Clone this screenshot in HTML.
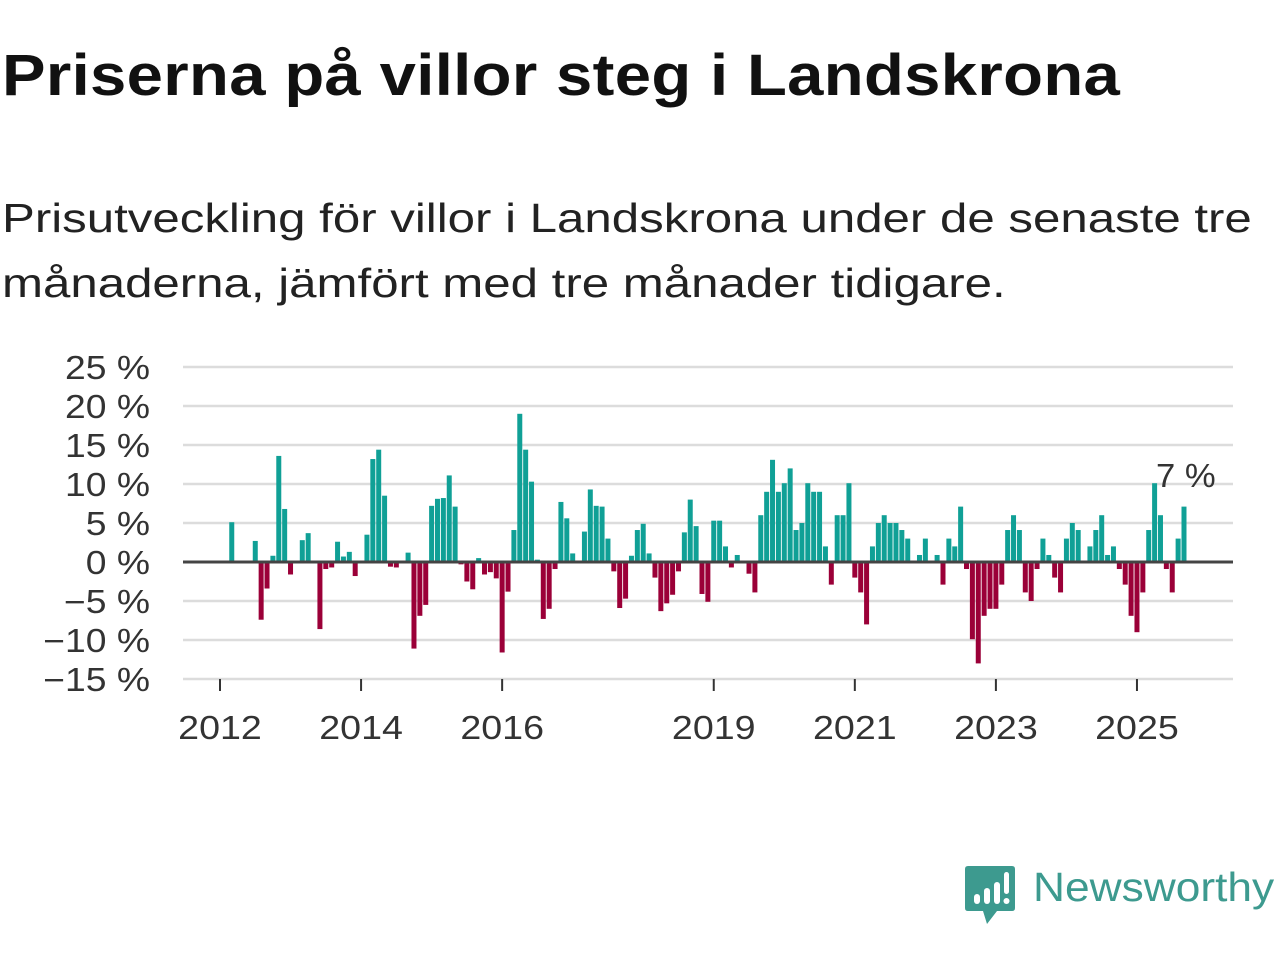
<!DOCTYPE html>
<html><head><meta charset="utf-8"><style>
body{margin:0;width:1280px;height:960px;background:#fff;overflow:hidden;font-family:"Liberation Sans",sans-serif;}
h1{position:absolute;left:2px;top:42px;margin:0;font-size:58px;font-weight:bold;color:#111;letter-spacing:0.3px;white-space:nowrap;transform-origin:0 0;transform:scaleX(1.125)}
.sub{position:absolute;left:2px;top:186px;margin:0;font-size:41px;line-height:65px;color:#222;white-space:nowrap;transform-origin:0 0;transform:scaleX(1.2)}
svg{position:absolute;left:0;top:0}
</style></head><body>
<h1>Priserna på villor steg i Landskrona</h1>
<p class="sub">Prisutveckling för villor i Landskrona under de senaste tre<br>månaderna, jämfört med tre månader tidigare.</p>
<svg id="chart" width="1280" height="960"></svg>
<div style="position:absolute;left:965px;top:866px;">
<svg width="52" height="60" style="position:absolute;left:0;top:0">
<path d="M3 0H47Q50 0 50 3V42Q50 45 47 45H32L22 58L18 45H3Q0 45 0 42V3Q0 0 3 0Z" fill="#3d9a8f"/>
<rect x="9" y="28" width="6" height="10" rx="3" fill="#fff"/><rect x="19" y="22" width="6" height="16" rx="3" fill="#fff"/><rect x="29" y="16" width="6" height="22" rx="3" fill="#fff"/><rect x="39" y="6" width="5" height="22" rx="2.5" fill="#fff"/><circle cx="41.5" cy="35" r="3" fill="#fff"/>
</svg>
<span style="position:absolute;left:68px;top:-2px;font-size:41px;color:#3d9a8f;white-space:nowrap;transform-origin:0 0;transform:scaleX(1.08);display:inline-block">Newsworthy</span>
</div>
<script>
const values=[0,0,5.1,0,0,0,2.7,-7.4,-3.4,0.8,13.6,6.8,-1.6,0,2.8,3.7,0,-8.6,-0.9,-0.7,2.6,0.7,1.3,-1.8,0,3.5,13.2,14.4,8.5,-0.6,-0.7,0,1.2,-11.1,-6.9,-5.5,7.2,8.1,8.2,11.1,7.1,-0.3,-2.5,-3.5,0.5,-1.6,-1.3,-2.1,-11.6,-3.8,4.1,19.0,14.4,10.3,0.3,-7.3,-6.0,-0.9,7.7,5.6,1.1,0,3.9,9.3,7.2,7.1,3.0,-1.2,-5.9,-4.7,0.8,4.1,4.9,1.1,-2.0,-6.3,-5.3,-4.2,-1.2,3.8,8.0,4.6,-4.1,-5.1,5.3,5.3,2.0,-0.7,0.9,0,-1.5,-3.9,6.0,9.0,13.1,9.0,10.1,12.0,4.1,5.0,10.1,9.0,9.0,2.0,-2.9,6.0,6.0,10.1,-2.0,-3.9,-8.0,2.0,5.0,6.0,5.0,5.0,4.1,3.0,0,0.9,3.0,0,0.9,-2.9,3.0,2.0,7.1,-0.9,-9.9,-13.0,-6.9,-6.0,-6.0,-2.9,4.1,6.0,4.1,-3.9,-5.0,-0.9,3.0,0.9,-2.0,-3.9,3.0,5.0,4.1,0,2.0,4.1,6.0,0.9,2.0,-0.9,-2.9,-6.9,-9.0,-3.9,4.1,10.1,6.0,-0.9,-3.9,3.0,7.1];
const startYear=2012;
const yTicks=[25,20,15,10,5,0,-5,-10,-15];
const yTickLabels=["25 %","20 %","15 %","10 %","5 %","0 %","\u22125 %","\u221210 %","\u221215 %"];
const xTickYears=[2012,2014,2016,2019,2021,2023,2025];
const lastLabel="7 %";
const NS="http://www.w3.org/2000/svg";
const svg=document.getElementById('chart');
const y=v=>562-v*7.8;
const x=m=>220+m*5.878;
function mk(t,a,p){const e=document.createElementNS(NS,t);for(const k in a)e.setAttribute(k,a[k]);(p||svg).appendChild(e);return e;}
function label(tx,ty,txt,anchor,sx,name){
 const g=mk('g',{transform:`translate(${tx},${ty}) scale(${sx},1)`});
 const l=mk('text',{x:0,y:0,'text-anchor':anchor,'font-size':33,fill:'#333','font-family':'Liberation Sans, sans-serif'},g);
 l.textContent=txt;
 
 
}
yTicks.forEach((t,i)=>{
 const g=mk('line',{x1:183,x2:1233,y1:y(t),y2:y(t),stroke:'#dcdcdc','stroke-width':2.5});
 
 
 label(150,y(t)+12,yTickLabels[i],'end',1.13,'y-tick-label');
});
values.forEach((v,m)=>{
 if(v===0)return;
 const b=mk('rect',{x:x(m)-2.5,width:5,y:v>0?y(v):y(0),height:Math.abs(v)*7.8,fill:v>0?'#10a096':'#9b0038'});
 
 
});
const z=mk('line',{x1:183,x2:1233,y1:y(0),y2:y(0),stroke:'#444','stroke-width':3});


xTickYears.forEach(yr=>{
 const m=(yr-startYear)*12;
 const t=mk('line',{x1:x(m),x2:x(m),y1:679,y2:691,stroke:'#333','stroke-width':2});
 
 
 label(x(m),739,String(yr),'middle',1.14,'x-tick-label');
});
const last=values.length-1;
label(x(last)-28,487,lastLabel,'start',1.05,'last-value-label');
</script>
</body></html>
